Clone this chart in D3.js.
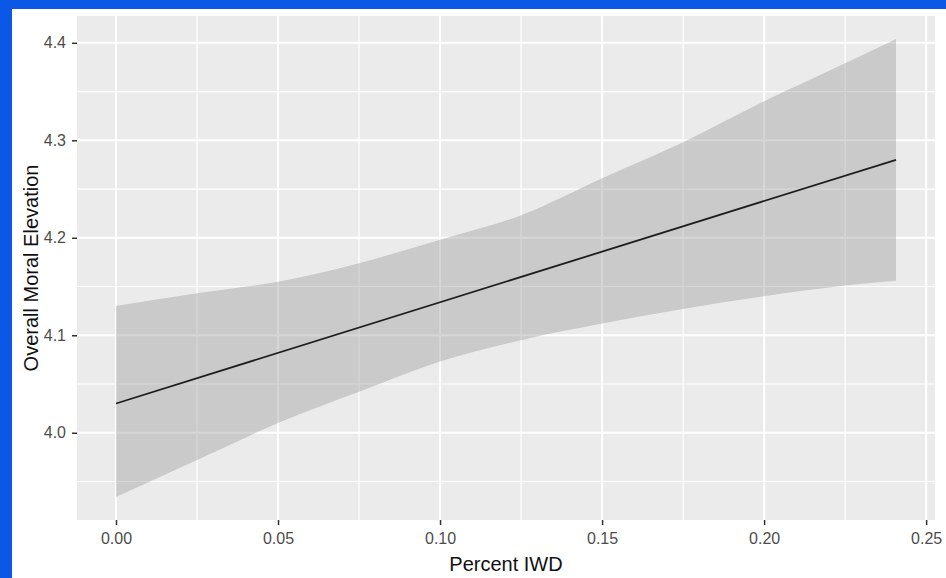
<!DOCTYPE html>
<html>
<head>
<meta charset="utf-8">
<script src="https://cdn.jsdelivr.net/npm/d3@7"></script>
<style>
  body { margin: 0; background: #fff; }
  text { font-family: "Liberation Sans", Arial, sans-serif; }
</style>
</head>
<body>
<div id="visualization"></div>
<script>
// ribbon (95% CI of lm fit)
const ribbonX = [0, 0.025, 0.05, 0.075, 0.10, 0.125, 0.15, 0.175, 0.20, 0.225, 0.2407]
const ribbonLower = [3.934, 3.972, 4.010, 4.042, 4.073, 4.095, 4.112, 4.127, 4.140, 4.151, 4.156]
const ribbonUpper = [4.130, 4.143, 4.155, 4.174, 4.198, 4.223, 4.261, 4.298, 4.340, 4.379, 4.404]

// fitted line endpoints
const fitX = [0, 0.2407]
const fitY = [4.030, 4.280]

const xTicks = [0, 0.05, 0.10, 0.15, 0.20, 0.25]
const xMinor = [0.025, 0.075, 0.125, 0.175, 0.225]
const yTicks = [4.0, 4.1, 4.2, 4.3, 4.4]
const yMinor = [3.95, 4.05, 4.15, 4.25, 4.35]

const xTitle = 'Percent IWD'
const yTitle = 'Overall Moral Elevation'

const width = 946
const height = 578
const panel = { left: 77, top: 16, right: 935, bottom: 520 }

const svg = d3.select('#visualization')
  .append('svg')
  .attr('width', width)
  .attr('height', height)
  .attr('id', 'canvas')

// slide background peeking out on top / left
svg.append('rect').attr('width', width).attr('height', height).attr('fill', '#0b58e6')
svg.append('rect').attr('x', 12).attr('y', 9).attr('width', width - 12).attr('height', height - 9).attr('fill', '#ffffff')

// ggplot-style 5% expansion
const xExt = d3.extent(ribbonX)
const yExt = [d3.min(ribbonLower), d3.max(ribbonUpper)]
const xPad = (xExt[1] - xExt[0]) * 0.05
const yPad = (yExt[1] - yExt[0]) * 0.05

const x = d3.scaleLinear()
  .domain([xExt[0] - xPad, xExt[1] + xPad])
  .range([panel.left, panel.right])
const y = d3.scaleLinear()
  .domain([yExt[0] - yPad, yExt[1] + yPad])
  .range([panel.bottom, panel.top])

svg.append('rect')
  .attr('x', panel.left).attr('y', panel.top)
  .attr('width', panel.right - panel.left)
  .attr('height', panel.bottom - panel.top)
  .attr('fill', '#ebebeb')

const grid = svg.append('g')
grid.selectAll('.vminor').data(xMinor).join('line')
  .attr('x1', d => x(d)).attr('x2', d => x(d))
  .attr('y1', panel.top).attr('y2', panel.bottom)
  .attr('stroke', '#fff').attr('stroke-width', 1.2)
grid.selectAll('.hminor').data(yMinor).join('line')
  .attr('y1', d => y(d)).attr('y2', d => y(d))
  .attr('x1', panel.left).attr('x2', panel.right)
  .attr('stroke', '#fff').attr('stroke-width', 1.2)
grid.selectAll('.vmajor').data(xTicks).join('line')
  .attr('x1', d => x(d)).attr('x2', d => x(d))
  .attr('y1', panel.top).attr('y2', panel.bottom)
  .attr('stroke', '#fff').attr('stroke-width', 2)
grid.selectAll('.hmajor').data(yTicks).join('line')
  .attr('y1', d => y(d)).attr('y2', d => y(d))
  .attr('x1', panel.left).attr('x2', panel.right)
  .attr('stroke', '#fff').attr('stroke-width', 2)

// confidence ribbon
const ribbon = ribbonX.map((d, i) => ({ x: d, lo: ribbonLower[i], hi: ribbonUpper[i] }))
svg.append('path')
  .datum(ribbon)
  .attr('d', d3.area().x(d => x(d.x)).y0(d => y(d.lo)).y1(d => y(d.hi)).curve(d3.curveMonotoneX))
  .attr('fill', '#999999')
  .attr('fill-opacity', 0.4)

// fit line
svg.append('path')
  .datum(fitX.map((d, i) => [d, fitY[i]]))
  .attr('d', d3.line().x(d => x(d[0])).y(d => y(d[1])))
  .attr('fill', 'none')
  .attr('stroke', '#1e1e1e')
  .attr('stroke-width', 1.8)

// axes
const xAxis = svg.append('g')
  .attr('transform', `translate(0,${panel.bottom})`)
  .call(d3.axisBottom(x).tickValues(xTicks).tickFormat(d3.format('.2f')).tickSize(5).tickPadding(8))
const yAxis = svg.append('g')
  .attr('transform', `translate(${panel.left},0)`)
  .call(d3.axisLeft(y).tickValues(yTicks).tickFormat(d3.format('.1f')).tickSize(5).tickPadding(6))

for (const ax of [xAxis, yAxis]) {
  ax.select('.domain').remove()
  ax.selectAll('line').attr('stroke', '#333').attr('stroke-width', 1.5)
  ax.selectAll('text').attr('fill', '#4d4d4d').attr('font-size', 16)
    .style('font-family', '"Liberation Sans", Arial, sans-serif')
}

svg.append('text')
  .attr('x', (panel.left + panel.right) / 2)
  .attr('y', 571)
  .attr('text-anchor', 'middle')
  .attr('font-size', 20)
  .attr('fill', '#111')
  .text(xTitle)

svg.append('text')
  .attr('transform', `translate(38,${(panel.top + panel.bottom) / 2}) rotate(-90)`)
  .attr('text-anchor', 'middle')
  .attr('font-size', 20)
  .attr('fill', '#111')
  .text(yTitle)
</script>
</body>
</html>
